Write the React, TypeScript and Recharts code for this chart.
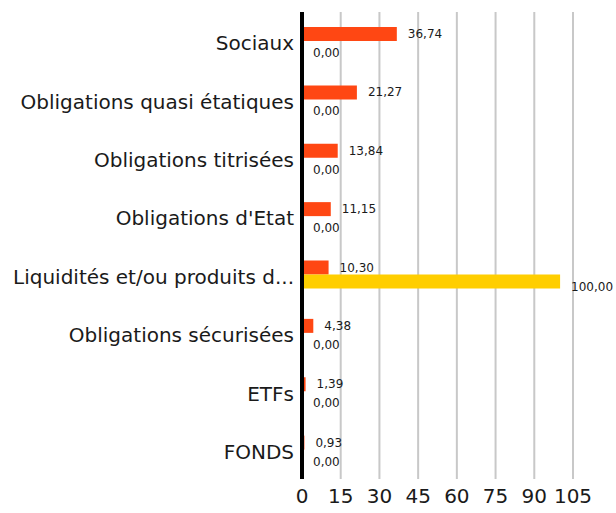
import { Bar, BarChart, CartesianGrid, LabelList, XAxis, YAxis } from 'recharts';

const categories = [
  'Sociaux',
  'Obligations quasi étatiques',
  'Obligations titrisées',
  "Obligations d'Etat",
  'Liquidités et/ou produits du marché monétaire',
  'Obligations sécurisées',
  'ETFs',
  'FONDS',
];
const fundValues = [36.74, 21.27, 13.84, 11.15, 10.3, 4.38, 1.39, 0.93];
const benchValues = [0, 0, 0, 0, 100, 0, 0, 0];
const xTicks = [0, 15, 30, 45, 60, 75, 90, 105];

const data = categories.map((name, i) => ({
  name,
  fund: fundValues[i],
  bench: benchValues[i],
}));

const fmt = (v: any) => Number(v).toFixed(2).replace('.', ',');
const cut = (s: string) => (s.length > 27 ? s.slice(0, 27) + '...' : s);

const font = '"DejaVu Sans", sans-serif';

// draws the value label even for zero-width bars
const valueLabel = (dy: number) => (props: any) => {
  const { x, y, width, height, value } = props;
  return (
    <text
      x={Number(x) + Number(width) + 11}
      y={Number(y) + Number(height) / 2 + dy}
      dominantBaseline="central"
      fontSize={12}
      fill="#1a1a1a"
      fontFamily={font}
    >
      {fmt(value)}
    </text>
  );
};

export default function App() {
  return (
    <div style={{ position: 'absolute', left: 0, top: 0 }}>
      <BarChart
        width={616}
        height={513}
        data={data}
        layout="vertical"
        margin={{ top: 12, right: 43, bottom: 0, left: 0 }}
        barGap={0}
        barSize={14}
      >
        <CartesianGrid horizontal={false} stroke="#c8c8c8" strokeWidth={2} />
        <XAxis
          type="number"
          domain={[0, 105]}
          ticks={xTicks}
          axisLine={false}
          tickLine={false}
          tickSize={0}
          tickMargin={10}
          height={34}
          tick={{ fontSize: 20, fill: '#1a1a1a', fontFamily: font }}
        />
        <YAxis
          type="category"
          dataKey="name"
          width={302}
          axisLine={{ stroke: '#000', strokeWidth: 4 }}
          tickLine={false}
          tickSize={0}
          tickMargin={8}
          tickFormatter={cut}
          tick={{ fontSize: 20, fill: '#1a1a1a', fontFamily: font, dy: 2 }}
        />
        <Bar dataKey="fund" fill="#ff4713" isAnimationActive={false}>
          <LabelList dataKey="fund" content={valueLabel(0)} />
        </Bar>
        <Bar dataKey="bench" fill="#ffce00" minPointSize={0.01} isAnimationActive={false}>
          <LabelList dataKey="bench" content={valueLabel(5)} />
        </Bar>
      </BarChart>
    </div>
  );
}
